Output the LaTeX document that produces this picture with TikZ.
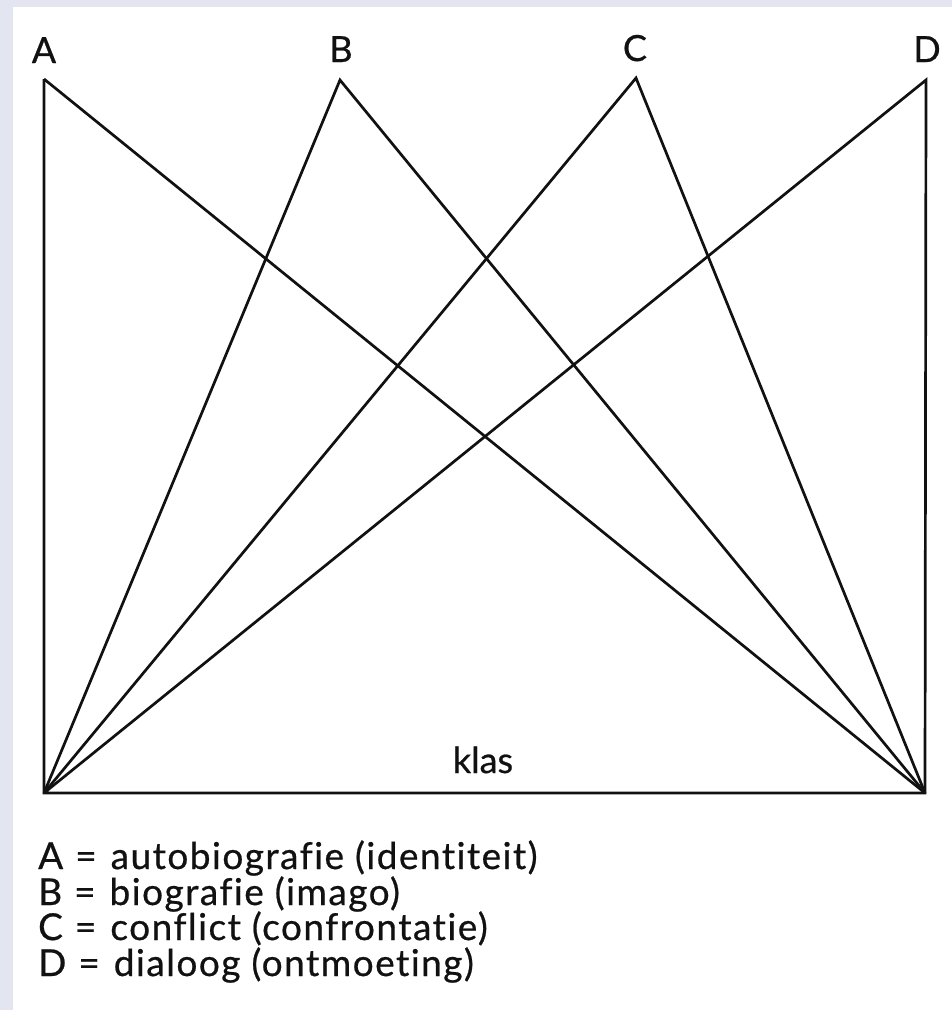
\documentclass[tikz,border=0pt]{standalone}
\usepackage{fontspec}
\setmainfont{Lato}[Ligatures=NoCommon,RawFeature={-liga;-clig;-dlig},FakeBold=0.6]
\newfontfamily\legendfont{Lato}[Ligatures=NoCommon,RawFeature={-liga;-clig;-dlig},LetterSpace=4,FakeBold=0.6]
\definecolor{frame}{HTML}{E3E6F0}
\definecolor{ink}{HTML}{111111}
\newcommand{\eqsign}{\hspace{12pt}=\hspace{14pt}}
\begin{document}
\begin{tikzpicture}[x=1pt,y=-1pt,
  edge/.style={draw=ink,line width=2.7pt,line join=miter},
  lbl/.style={font=\fontsize{36}{42}\selectfont,text=ink,inner sep=0pt,anchor=base},
  legend/.style={font=\legendfont\fontsize{37}{42}\selectfont,text=ink,inner sep=0pt,anchor=base west}]
\fill[frame] (0,0) rectangle (952,1010);
\fill[white] (13,7) rectangle (952,1010);
\useasboundingbox (0,0) rectangle (952,1010);
\coordinate (a) at (44,79);
\coordinate (b) at (340,80);
\coordinate (c) at (636,78);
\coordinate (d) at (926,80);
\coordinate (bl) at (44,793);
\coordinate (br) at (925,793);
\node[lbl] (la) at (44,63) {A};
\node[lbl] (lb) at (341,62) {B};
\node[lbl] (lc) at (635,61) {C};
\node[lbl] (ld) at (927,62) {D};
\draw[edge] (a) -- (bl) -- (br) -- (d) -- (bl);
\draw[edge] (a) -- (br);
\draw[edge] (bl) -- (b) -- (br);
\draw[edge] (bl) -- (c) -- (br);
\node[lbl] (klas) at (483,773) {klas};
\node[legend] (l1) at (38,869) {A\eqsign autobiografie (identiteit)};
\node[legend] (l2) at (38,905) {B\eqsign biografie (imago)};
\node[legend] (l3) at (38,940) {C\eqsign conflict (confrontatie)};
\node[legend] (l4) at (38,976) {D\eqsign dialoog (ontmoeting)};
\end{tikzpicture}
\end{document}
